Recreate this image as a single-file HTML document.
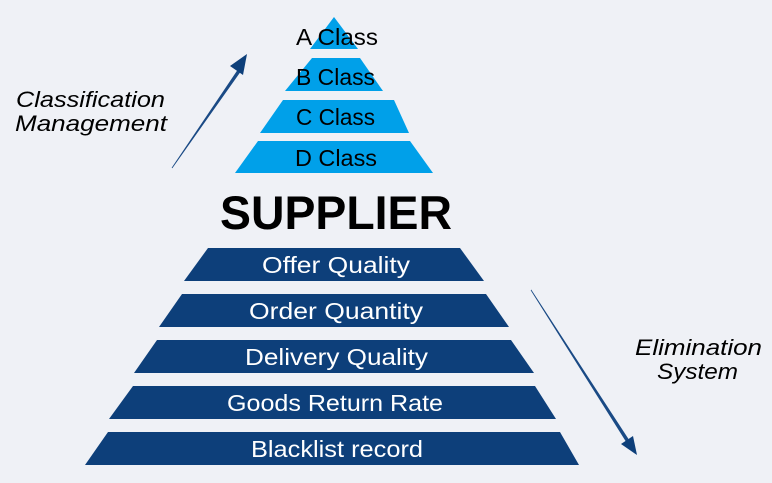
<!DOCTYPE html>
<html><head><meta charset="utf-8"><style>
html,body{margin:0;padding:0;background:#eff1f6;}
svg{display:block;}
text{font-family:"Liberation Sans",sans-serif;}
</style></head><body>
<svg width="772" height="483" viewBox="0 0 772 483" xmlns="http://www.w3.org/2000/svg">
<rect width="772" height="483" fill="#eff1f6"/>
<g fill="#00a0e9">
<polygon points="334,17 358,49 310,49"/>
<polygon points="312,58 360,58 383,91 285,91"/>
<polygon points="283,100 394,100 409,133 260,133"/>
<polygon points="258,141 410,141 433,173 235,173"/>
</g>
<g font-size="23" fill="#000">
<text x="296" y="45" textLength="82" lengthAdjust="spacingAndGlyphs">A Class</text>
<text x="296" y="85" textLength="79" lengthAdjust="spacingAndGlyphs">B Class</text>
<text x="296" y="125" textLength="79" lengthAdjust="spacingAndGlyphs">C Class</text>
<text x="295" y="166" textLength="82" lengthAdjust="spacingAndGlyphs">D Class</text>
</g>
<text x="220" y="229" font-size="47" font-weight="bold" fill="#000" textLength="232" lengthAdjust="spacingAndGlyphs">SUPPLIER</text>
<g fill="#0d3f7a">
<polygon points="208,248 460,248 484,281 184,281"/>
<polygon points="182,294 486,294 509,327 159,327"/>
<polygon points="157,340 511,340 534,373 134,373"/>
<polygon points="133,386 535,386 556,419 109,419"/>
<polygon points="108,432 560,432 579,465 85,465"/>
</g>
<g font-size="23" fill="#fff">
<text x="262" y="273" textLength="148" lengthAdjust="spacingAndGlyphs">Offer Quality</text>
<text x="249" y="319" textLength="174" lengthAdjust="spacingAndGlyphs">Order Quantity</text>
<text x="245" y="365" textLength="183" lengthAdjust="spacingAndGlyphs">Delivery Quality</text>
<text x="227" y="411" textLength="216" lengthAdjust="spacingAndGlyphs">Goods Return Rate</text>
<text x="251" y="457" textLength="172" lengthAdjust="spacingAndGlyphs">Blacklist record</text>
</g>
<g font-size="22" font-style="italic" fill="#000">
<text x="16" y="107" textLength="149" lengthAdjust="spacingAndGlyphs">Classification</text>
<text x="15" y="131" textLength="152" lengthAdjust="spacingAndGlyphs">Management</text>
<text x="635" y="355" textLength="127" lengthAdjust="spacingAndGlyphs">Elimination</text>
<text x="657" y="379" textLength="81" lengthAdjust="spacingAndGlyphs">System</text>
</g>
<polygon points="172,168 240,67 242,69" fill="#1a4a85" stroke="#1a4a85" stroke-width="0.8"/>
<polygon points="247,54 243,75 230,66" fill="#0d3f7a"/>
<polygon points="531,290 628,439 626,441" fill="#1a4a85" stroke="#1a4a85" stroke-width="0.8"/>
<polygon points="637,455 621,444 633,436" fill="#0d3f7a"/>
</svg>
</body></html>
